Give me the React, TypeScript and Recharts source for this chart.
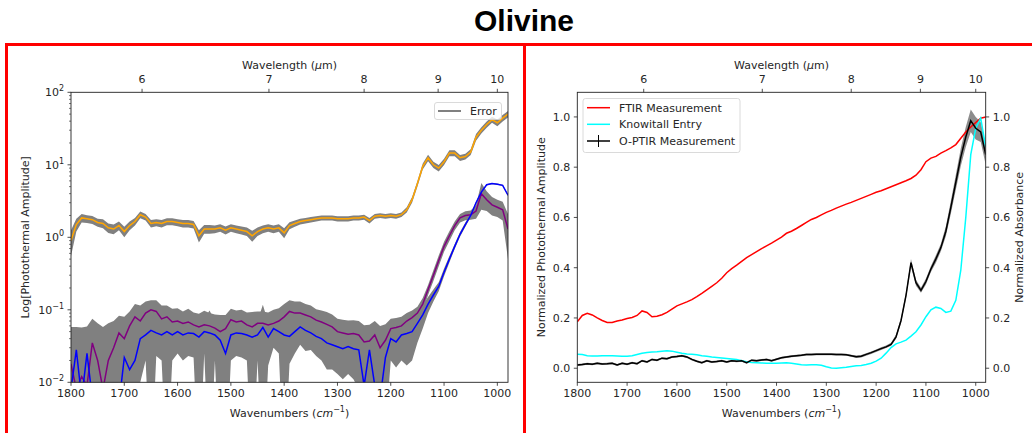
import React from "react";
import { Area, ComposedChart, Line, XAxis, YAxis } from "recharts";

// wavenumber grid (cm^-1)
const wavenumbers = [
  1800, 1790, 1780, 1770, 1760, 1750, 1740, 1730, 1720, 1710,
  1700, 1690, 1680, 1670, 1660, 1650, 1640, 1630, 1620, 1610,
  1600, 1590, 1580, 1570, 1560, 1550, 1540, 1530, 1520, 1510,
  1500, 1490, 1480, 1470, 1460, 1450, 1440, 1430, 1420, 1410,
  1400, 1390, 1380, 1370, 1360, 1350, 1340, 1330, 1320, 1310,
  1300, 1290, 1280, 1270, 1260, 1250, 1240, 1230, 1220, 1210,
  1200, 1190, 1180, 1170, 1160, 1150, 1140, 1130, 1120, 1110,
  1100, 1090, 1080, 1070, 1060, 1050, 1040, 1030, 1020, 1010,
  1000, 990, 980,
];

// left panel (log photothermal amplitude)
const orange = [
  0.9, 1.5, 1.85, 1.8, 1.75, 1.6, 1.55, 1.35, 1.3, 1.45,
  1.2, 1.45, 1.65, 2.05, 1.9, 1.55, 1.6, 1.55, 1.65, 1.65,
  1.6, 1.55, 1.55, 1.5, 1.05, 1.3, 1.3, 1.3, 1.35, 1.25,
  1.35, 1.3, 1.25, 1.2, 1.05, 1.2, 1.3, 1.35, 1.3, 1.35,
  1.15, 1.45, 1.55, 1.65, 1.7, 1.75, 1.8, 1.85, 1.85, 1.85,
  1.8, 1.8, 1.8, 1.85, 1.85, 1.9, 1.7, 1.95, 2.0, 1.95,
  2.0, 1.95, 2.05, 2.4, 3.3, 5.5, 9.5, 12.5, 10.0, 9.0,
  11.0, 14.5, 14.5, 12.5, 13.0, 15.0, 24, 30, 36, 42,
  38, 44, 50,
];
const orangeErr = [
  0.35, 0.3, 0.25, 0.22, 0.22, 0.2, 0.22, 0.2, 0.2, 0.2,
  0.2, 0.2, 0.2, 0.22, 0.2, 0.18, 0.18, 0.18, 0.18, 0.18,
  0.18, 0.18, 0.18, 0.18, 0.2, 0.18, 0.18, 0.16, 0.16, 0.16,
  0.16, 0.16, 0.16, 0.16, 0.18, 0.16, 0.16, 0.16, 0.16, 0.16,
  0.18, 0.16, 0.15, 0.15, 0.15, 0.15, 0.15, 0.15, 0.15, 0.15,
  0.15, 0.15, 0.15, 0.15, 0.15, 0.15, 0.15, 0.15, 0.15, 0.15,
  0.15, 0.15, 0.15, 0.2, 0.3, 0.5, 0.9, 1.3, 1.0, 0.9,
  1.1, 1.4, 1.4, 1.2, 1.2, 1.4, 2.5, 3.0, 3.5, 4.0,
  4.0, 4.5, 5.0,
];
const purple = [
  0.018, 0.008, 0.012, 0.009, 0.035, 0.02, 0.008, 0.02, 0.03, 0.048,
  0.04, 0.06, 0.08, 0.07, 0.09, 0.1, 0.095, 0.075, 0.08, 0.068,
  0.07, 0.065, 0.068, 0.062, 0.058, 0.062, 0.06, 0.056, 0.05, 0.055,
  0.073, 0.068, 0.07, 0.062, 0.058, 0.065, 0.065, 0.062, 0.065, 0.07,
  0.08, 0.095, 0.09, 0.09, 0.085, 0.08, 0.072, 0.068, 0.063, 0.058,
  0.05, 0.048, 0.046, 0.047, 0.045, 0.036, 0.037, 0.045, 0.03, 0.038,
  0.055, 0.057, 0.06, 0.07, 0.078, 0.09, 0.12, 0.19, 0.3, 0.48,
  0.75, 1.05, 1.45, 1.85, 2.0, 2.05, 2.3, 4.0, 3.3, 2.8,
  2.6, 2.4, 1.3,
];
const purpleErr = [
  0.04, 0.05, 0.045, 0.05, 0.04, 0.045, 0.05, 0.045, 0.04, 0.035,
  0.04, 0.035, 0.04, 0.045, 0.04, 0.035, 0.04, 0.04, 0.035, 0.035,
  0.035, 0.03, 0.035, 0.03, 0.03, 0.035, 0.03, 0.03, 0.035, 0.03,
  0.03, 0.03, 0.03, 0.03, 0.035, 0.03, 0.03, 0.03, 0.035, 0.035,
  0.04, 0.04, 0.04, 0.04, 0.035, 0.035, 0.03, 0.03, 0.03, 0.028,
  0.025, 0.025, 0.025, 0.025, 0.025, 0.025, 0.025, 0.025, 0.03, 0.025,
  0.02, 0.02, 0.02, 0.02, 0.02, 0.02, 0.025, 0.03, 0.05, 0.08,
  0.12, 0.16, 0.2, 0.25, 0.28, 0.3, 0.5, 1.6, 1.0, 0.8,
  0.7, 0.7, 0.8,
];
const blue = [
  0.008, 0.028, 0.006, 0.025, 0.006, 0.005, 0.008, 0.006, 0.009, 0.005,
  0.022, 0.015, 0.02, 0.04, 0.045, 0.052, 0.048, 0.045, 0.05, 0.045,
  0.05, 0.045, 0.048, 0.047, 0.042, 0.05, 0.048, 0.045, 0.038, 0.025,
  0.045, 0.048, 0.047, 0.045, 0.042, 0.045, 0.057, 0.042, 0.055, 0.05,
  0.045, 0.043, 0.05, 0.058, 0.052, 0.048, 0.043, 0.04, 0.035, 0.033,
  0.031, 0.029, 0.031, 0.029, 0.028, 0.009, 0.028, 0.009, 0.006, 0.022,
  0.04, 0.036, 0.045, 0.047, 0.05, 0.065, 0.085, 0.12, 0.16, 0.21,
  0.33, 0.5, 0.75, 1.1, 1.5, 2.0, 3.0, 4.2, 5.3, 5.5,
  5.4, 5.2, 3.8,
];
const blueErr = [
  0.02, 0.02, 0.02, 0.02, 0.02, 0.02, 0.02, 0.02, 0.02, 0.02,
  0.02, 0.025, 0.025, 0.03, 0.025, 0.055, 0.025, 0.025, 0.055, 0.025,
  0.025, 0.025, 0.025, 0.025, 0.045, 0.025, 0.05, 0.025, 0.04, 0.03,
  0.025, 0.025, 0.025, 0.025, 0.045, 0.025, 0.06, 0.025, 0.025, 0.025,
  0.05, 0.025, 0.025, 0.025, 0.025, 0.02, 0.02, 0.02, 0.02, 0.018,
  0.018, 0.018, 0.018, 0.018, 0.02, 0.02, 0.03, 0.02, 0.02, 0.02,
  0.02, 0.02, 0.025, 0.03, 0.03, 0.03, 0.03, 0.03, 0.03, 0.03,
  0.04, 0.05, 0.06, 0.08, 0.1, 0.1, 0.1, 0.1, 0.1, 0.1,
  0.1, 0.1, 0.1,
];

// right panel (normalized)
const ftir = [
  0.185, 0.21, 0.219, 0.212, 0.2, 0.19, 0.182, 0.182, 0.188, 0.192,
  0.198, 0.202, 0.21, 0.228, 0.222, 0.205, 0.207, 0.213, 0.222, 0.235,
  0.248, 0.256, 0.264, 0.273, 0.285, 0.298, 0.312, 0.326, 0.34, 0.358,
  0.38, 0.396, 0.41, 0.425, 0.44, 0.452, 0.464, 0.476, 0.487, 0.498,
  0.51, 0.522, 0.537, 0.545, 0.556, 0.568, 0.58, 0.592, 0.6, 0.61,
  0.62, 0.628, 0.637, 0.645, 0.653, 0.66, 0.668, 0.676, 0.684, 0.692,
  0.7, 0.706, 0.714, 0.722, 0.73, 0.738, 0.746, 0.755, 0.768, 0.79,
  0.822, 0.836, 0.843, 0.856, 0.866, 0.877, 0.89, 0.915, 0.94, 0.96,
  0.978, 0.995, 1.0,
];
const knowitall = [
  0.056, 0.055, 0.05, 0.049, 0.049, 0.05, 0.05, 0.05, 0.049, 0.048,
  0.048, 0.05, 0.055, 0.06, 0.063, 0.065, 0.066, 0.068, 0.07, 0.068,
  0.064, 0.06, 0.057, 0.056, 0.054, 0.05, 0.048, 0.045, 0.043, 0.041,
  0.039, 0.037, 0.035, 0.03, 0.026, 0.023, 0.022, 0.021, 0.02, 0.02,
  0.02, 0.021, 0.022, 0.02, 0.017, 0.014, 0.013, 0.014, 0.014, 0.012,
  0.006, 0.001, 0.0, 0.002, 0.004, 0.007, 0.01, 0.011, 0.015, 0.02,
  0.028, 0.04, 0.06, 0.082, 0.097, 0.104, 0.112, 0.128, 0.145, 0.172,
  0.205, 0.232, 0.243, 0.238, 0.222, 0.227, 0.27, 0.39, 0.6, 0.85,
  0.955, 0.995, 0.88,
];
const optir = [
  0.013, 0.015, 0.018, 0.016, 0.02, 0.017, 0.018, 0.02, 0.013, 0.02,
  0.016, 0.022, 0.018, 0.03, 0.025, 0.035, 0.032, 0.04, 0.038, 0.045,
  0.047, 0.05, 0.045, 0.035, 0.028, 0.022, 0.03, 0.025, 0.027, 0.03,
  0.025, 0.03, 0.028, 0.03, 0.022, 0.032, 0.03, 0.033, 0.035, 0.03,
  0.036, 0.042, 0.045, 0.048, 0.05, 0.052, 0.055, 0.055, 0.056, 0.056,
  0.056, 0.056, 0.055, 0.055, 0.054, 0.05, 0.046, 0.048, 0.055, 0.062,
  0.07, 0.078, 0.085, 0.095, 0.125, 0.19, 0.29, 0.42, 0.34, 0.31,
  0.345, 0.395, 0.435, 0.48, 0.545, 0.64, 0.74, 0.84, 0.92, 0.985,
  0.955, 0.94, 0.85,
];
const optirErr = [
  0.004, 0.004, 0.004, 0.004, 0.004, 0.004, 0.004, 0.004, 0.004, 0.004,
  0.004, 0.004, 0.004, 0.004, 0.004, 0.004, 0.004, 0.004, 0.004, 0.004,
  0.004, 0.004, 0.004, 0.004, 0.004, 0.004, 0.004, 0.004, 0.004, 0.004,
  0.004, 0.004, 0.004, 0.004, 0.004, 0.004, 0.004, 0.004, 0.004, 0.004,
  0.004, 0.004, 0.004, 0.004, 0.004, 0.004, 0.004, 0.004, 0.004, 0.004,
  0.004, 0.004, 0.004, 0.004, 0.004, 0.004, 0.005, 0.005, 0.005, 0.005,
  0.005, 0.005, 0.005, 0.006, 0.008, 0.01, 0.012, 0.015, 0.012, 0.01,
  0.012, 0.012, 0.015, 0.015, 0.02, 0.025, 0.03, 0.035, 0.04, 0.045,
  0.045, 0.04, 0.04,
];

const wavelengthTicks = [6, 7, 8, 9, 10];
const wavenumberTicks = [1800, 1700, 1600, 1500, 1400, 1300, 1200, 1100, 1000];
const logDecades = [0.01, 0.1, 1, 10];
const linearTicks = [0, 0.2, 0.4, 0.6, 0.8, 1.0];

const topTicks = wavelengthTicks.map((l) => 10000 / l);
const logTicks = [
  ...logDecades.flatMap((d) => [1, 2, 3, 4, 5, 6, 7, 8, 9].map((m) => m * d)),
  100,
];

const floor = (v: number) => Math.max(v, 0.0005);

const leftData = wavenumbers.map((w, i) => ({
  w,
  orange: orange[i],
  orangeBand: [floor(orange[i] - orangeErr[i]), orange[i] + orangeErr[i]],
  purple: purple[i],
  purpleBand: [floor(purple[i] - purpleErr[i]), purple[i] + purpleErr[i]],
  blue: blue[i],
  blueBand: [floor(blue[i] - blueErr[i]), blue[i] + blueErr[i]],
}));

const rightData = wavenumbers.map((w, i) => ({
  w,
  ftir: ftir[i],
  knowitall: knowitall[i],
  optir: optir[i],
  optirBand: [optir[i] - optirErr[i], optir[i] + optirErr[i]],
}));

const FONT = "'DejaVu Sans', Verdana, sans-serif";
const INK = "#262626";
const SPINE = "#222";

function BottomTick({ x, y, payload }: any) {
  return (
    <g>
      <line x1={x} x2={x} y1={y} y2={y + 3.5} stroke={SPINE} strokeWidth={0.8} />
      <text x={x} y={y + 15} textAnchor="middle" fontSize={11} fontFamily={FONT} fill={INK}>
        {payload.value}
      </text>
    </g>
  );
}

function TopTick({ x, y, payload }: any) {
  return (
    <g>
      <line x1={x} x2={x} y1={y} y2={y - 3.5} stroke={SPINE} strokeWidth={0.8} />
      <text x={x} y={y - 9} textAnchor="middle" fontSize={11} fontFamily={FONT} fill={INK}>
        {Math.round(10000 / payload.value)}
      </text>
    </g>
  );
}

function LogTick({ x, y, payload }: any) {
  const lg = Math.log10(payload.value);
  const e = Math.round(lg);
  const major = Math.abs(lg - e) < 1e-6;
  return (
    <g>
      <line x1={x - (major ? 3.5 : 2)} x2={x} y1={y} y2={y} stroke={SPINE} strokeWidth={major ? 0.8 : 0.6} />
      {major && (
        <text x={x - 7} y={y + 4} textAnchor="end" fontSize={11} fontFamily={FONT} fill={INK}>
          10
          <tspan dy={-5} fontSize={8}>
            {e < 0 ? "\u2212" + -e : String(e)}
          </tspan>
        </text>
      )}
    </g>
  );
}

function LeftTick({ x, y, payload }: any) {
  return (
    <g>
      <line x1={x - 3.5} x2={x} y1={y} y2={y} stroke={SPINE} strokeWidth={0.8} />
      <text x={x - 7} y={y + 4} textAnchor="end" fontSize={11} fontFamily={FONT} fill={INK}>
        {payload.value.toFixed(1)}
      </text>
    </g>
  );
}

function RightTick({ x, y, payload }: any) {
  return (
    <g>
      <line x1={x} x2={x + 3.5} y1={y} y2={y} stroke={SPINE} strokeWidth={0.8} />
      <text x={x + 7} y={y + 4} textAnchor="start" fontSize={11} fontFamily={FONT} fill={INK}>
        {payload.value.toFixed(1)}
      </text>
    </g>
  );
}

const axisCommon = {
  axisLine: false,
  tickLine: false,
  tickSize: 0,
  tickMargin: 0,
  interval: 0 as const,
  allowDataOverflow: true,
};

function LeftPanel() {
  return (
    <ComposedChart
      width={520}
      height={433}
      data={leftData}
      margin={{ top: 62.3, right: 12, bottom: 20.7, left: 21 }}
    >
      <XAxis
        dataKey="w"
        type="number"
        domain={[980, 1800]}
        reversed
        ticks={wavenumberTicks}
        height={30}
        tick={BottomTick}
        {...axisCommon}
      />
      <XAxis
        xAxisId="top"
        orientation="top"
        dataKey="w"
        type="number"
        domain={[980, 1800]}
        reversed
        ticks={topTicks}
        height={30}
        tick={TopTick}
        {...axisCommon}
      />
      <YAxis
        scale="log"
        type="number"
        domain={[0.01, 100]}
        ticks={logTicks}
        width={50}
        tick={LogTick}
        {...axisCommon}
      />
      <Area dataKey="orangeBand" stroke="none" fill="#808080" fillOpacity={1} isAnimationActive={false} activeDot={false} />
      <Area dataKey="purpleBand" stroke="none" fill="#808080" fillOpacity={1} isAnimationActive={false} activeDot={false} />
      <Area dataKey="blueBand" stroke="none" fill="#808080" fillOpacity={1} isAnimationActive={false} activeDot={false} />
      <Line dataKey="orange" stroke="#ffa500" strokeWidth={1.5} dot={false} isAnimationActive={false} />
      <Line dataKey="purple" stroke="#800080" strokeWidth={1.5} dot={false} isAnimationActive={false} />
      <Line dataKey="blue" stroke="#0000ff" strokeWidth={1.5} dot={false} isAnimationActive={false} />
      <Line xAxisId="top" dataKey="orange" stroke="none" dot={false} legendType="none" isAnimationActive={false} />
    </ComposedChart>
  );
}

function RightPanel() {
  const dom: [number, number] = [-0.056, 1.098];
  return (
    <ComposedChart
      width={506}
      height={433}
      data={rightData}
      margin={{ top: 62.3, right: 6.3, bottom: 20.7, left: 11.3 }}
    >
      <XAxis
        dataKey="w"
        type="number"
        domain={[980, 1800]}
        reversed
        ticks={wavenumberTicks}
        height={30}
        tick={BottomTick}
        {...axisCommon}
      />
      <XAxis
        xAxisId="top"
        orientation="top"
        dataKey="w"
        type="number"
        domain={[980, 1800]}
        reversed
        ticks={topTicks}
        height={30}
        tick={TopTick}
        {...axisCommon}
      />
      <YAxis yAxisId="left" type="number" domain={dom} ticks={linearTicks} width={40} tick={LeftTick} {...axisCommon} />
      <YAxis
        yAxisId="right"
        orientation="right"
        type="number"
        domain={dom}
        ticks={linearTicks}
        width={40}
        tick={RightTick}
        {...axisCommon}
      />
      <Area yAxisId="left" dataKey="optirBand" stroke="none" fill="#808080" fillOpacity={0.9} isAnimationActive={false} activeDot={false} />
      <Line yAxisId="left" dataKey="ftir" stroke="#ff0000" strokeWidth={1.5} dot={false} isAnimationActive={false} />
      <Line yAxisId="right" dataKey="knowitall" stroke="#00ffff" strokeWidth={1.5} dot={false} isAnimationActive={false} />
      <Line yAxisId="left" dataKey="optir" stroke="#000000" strokeWidth={1.5} dot={false} isAnimationActive={false} />
      <Line xAxisId="top" yAxisId="left" dataKey="ftir" stroke="none" dot={false} isAnimationActive={false} />
    </ComposedChart>
  );
}

function Overlay() {
  const t = { fontFamily: FONT, fontSize: 11, fill: INK };
  return (
    <svg
      width={1032}
      height={433}
      style={{ position: "absolute", left: 0, top: 0, pointerEvents: "none" }}
    >
      <text x={524} y={30.5} textAnchor="middle" fontFamily="'Liberation Sans', Arial, sans-serif" fontWeight={700} fontSize={30} fill="#000">
        Olivine
      </text>
      {/* red panel borders */}
      <rect x={5} y={43} width={1027} height={3} fill="#ff0000" />
      <rect x={5} y={43} width={3} height={390} fill="#ff0000" />
      <rect x={523} y={43} width={3} height={390} fill="#ff0000" />

      {/* left panel frame + labels */}
      <rect x={71} y={92.3} width={437} height={290} fill="none" stroke={SPINE} strokeWidth={0.9} />
      <text x={289.5} y={69} textAnchor="middle" {...t}>
        Wavelength (<tspan fontStyle="italic">μ</tspan>m)
      </text>
      <text x={289.5} y={417} textAnchor="middle" {...t}>
        Wavenumbers (<tspan fontStyle="italic">cm</tspan>
        <tspan dy={-5} fontSize={8}>{"\u22121"}</tspan>
        <tspan dy={5}>)</tspan>
      </text>
      <text transform="translate(29,237.3) rotate(-90)" textAnchor="middle" {...t}>
        Log[Photothermal Amplitude]
      </text>
      <rect x={434.5} y={102.5} width={67} height={17} rx={2.5} fill="#fff" fillOpacity={0.8} stroke="#d0d0d0" strokeWidth={0.8} />
      <line x1={438} x2={461} y1={111} y2={111} stroke="#808080" strokeWidth={2} />
      <text x={470} y={115} {...t}>
        Error
      </text>

      {/* right panel frame + labels */}
      <rect x={577.3} y={92.3} width={408.4} height={290} fill="none" stroke={SPINE} strokeWidth={0.9} />
      <text x={781.5} y={69} textAnchor="middle" {...t}>
        Wavelength (<tspan fontStyle="italic">μ</tspan>m)
      </text>
      <text x={781.5} y={417} textAnchor="middle" {...t}>
        Wavenumbers (<tspan fontStyle="italic">cm</tspan>
        <tspan dy={-5} fontSize={8}>{"\u22121"}</tspan>
        <tspan dy={5}>)</tspan>
      </text>
      <text transform="translate(545,237.3) rotate(-90)" textAnchor="middle" {...t}>
        Normalized Photothermal Amplitude
      </text>
      <text transform="translate(1023,237.3) rotate(-90)" textAnchor="middle" {...t}>
        Normalized Absorbance
      </text>
      <rect x={583} y={98.5} width={157} height={54} rx={2.5} fill="#fff" fillOpacity={0.8} stroke="#d0d0d0" strokeWidth={0.8} />
      <line x1={587} x2={610} y1={107.7} y2={107.7} stroke="#ff0000" strokeWidth={1.5} />
      <text x={619} y={111.7} {...t}>
        FTIR Measurement
      </text>
      <line x1={587} x2={610} y1={124.3} y2={124.3} stroke="#00ffff" strokeWidth={1.5} />
      <text x={619} y={128.3} {...t}>
        Knowitall Entry
      </text>
      <line x1={587} x2={610} y1={141} y2={141} stroke="#000" strokeWidth={1.5} />
      <line x1={598.5} x2={598.5} y1={135} y2={147} stroke="#000" strokeWidth={1} />
      <text x={619} y={145} {...t}>
        O-PTIR Measurement
      </text>
    </svg>
  );
}

export default function App() {
  return (
    <div
      style={{
        position: "absolute",
        left: 0,
        top: 0,
        width: 1032,
        height: 433,
        background: "#fff",
        overflow: "hidden",
      }}
    >
      <div style={{ position: "absolute", left: 0, top: 0 }}>
        <LeftPanel />
      </div>
      <div style={{ position: "absolute", left: 526, top: 0 }}>
        <RightPanel />
      </div>
      <Overlay />
    </div>
  );
}
